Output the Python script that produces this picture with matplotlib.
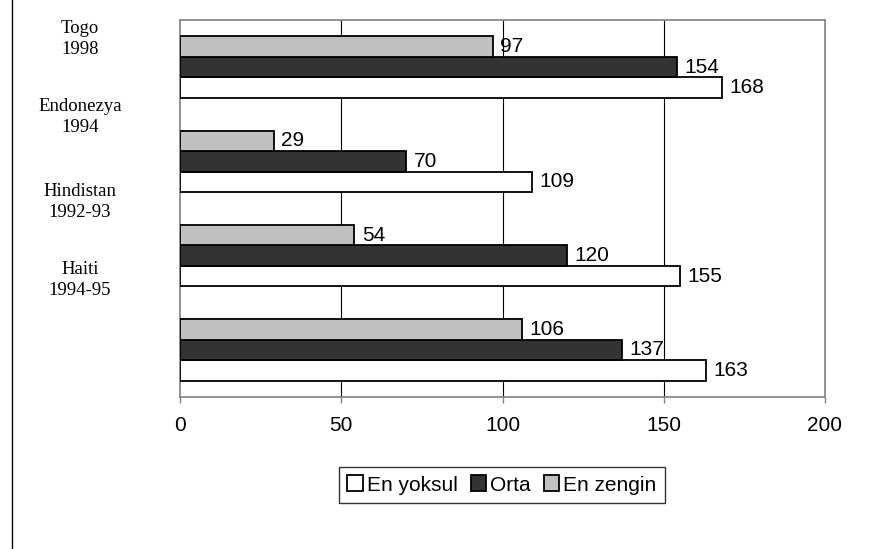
import matplotlib
matplotlib.use("Agg")
import matplotlib.pyplot as plt
from matplotlib.lines import Line2D
import numpy as np

# data, top group to bottom group
countries = ["Togo\n1998", "Endonezya\n1994", "Hindistan\n1992-93", "Haiti\n1994-95"]
en_yoksul = [168, 109, 155, 163]
orta = [154, 70, 120, 137]
en_zengin = [97, 29, 54, 106]
series_names = ["En yoksul", "Orta", "En zengin"]
xticks = [0, 50, 100, 150, 200]

# the country labels sit a bit off the bar groups in the original
label_y = [-0.30, 0.53, 1.43, 2.26]

plt.rcParams['font.family'] = ['Liberation Sans', 'DejaVu Sans']

fig = plt.figure(figsize=(8.69, 5.49), dpi=100)
ax = fig.add_axes([180/869, 152/549, 645/869, 377/549])

y = np.arange(len(countries))
h = 0.218
bars_w = ax.barh(y + h, en_yoksul, height=h, color="white", edgecolor="black", linewidth=1.3, label=series_names[0], zorder=3)
bars_o = ax.barh(y, orta, height=h, color="#333333", edgecolor="black", linewidth=1.3, label=series_names[1], zorder=3)
bars_z = ax.barh(y - h, en_zengin, height=h, color="#c0c0c0", edgecolor="black", linewidth=1.3, label=series_names[2], zorder=3)

for bars in (bars_w, bars_o, bars_z):
    for b in bars:
        ax.annotate(str(int(b.get_width())), (b.get_width(), b.get_y() + b.get_height()/2),
                    xytext=(5.5, 0), textcoords="offset points", va="center", ha="left", fontsize=15)

ax.set_xlim(0, 200)
ax.set_ylim(3.5, -0.5)
ax.set_xticks(xticks)
ax.set_xticklabels([str(t) for t in xticks], fontsize=15)
ax.set_yticks([])
ax.tick_params(axis="x", direction="out", length=4.5, width=1, color="#808080", pad=9)
for x in xticks[1:-1]:
    ax.axvline(x, color="black", linewidth=0.8, zorder=1)
for s in ax.spines.values():
    s.set_color("#808080")
    s.set_linewidth(1.2)

for lab, ly in zip(countries, label_y):
    ax.text(-100/645, ly, lab, transform=ax.get_yaxis_transform(), ha="center", va="center",
            fontsize=13.5, family="Liberation Serif", linespacing=1.3)

leg = fig.legend(handles=[bars_w, bars_o, bars_z], labels=series_names, loc="center",
                 bbox_to_anchor=(502/869, 1 - 485/549), ncol=3, fontsize=15, frameon=True,
                 fancybox=False, handlelength=0.75, handleheight=0.8, handletextpad=0.2,
                 columnspacing=0.6, borderpad=0.4, borderaxespad=0)
leg.get_frame().set_edgecolor("black")
leg.get_frame().set_linewidth(1.0)

fig.add_artist(Line2D([12/869, 12/869], [0, 1], color="black", linewidth=1.0, transform=fig.transFigure))

fig.savefig("out.png", dpi=100)
